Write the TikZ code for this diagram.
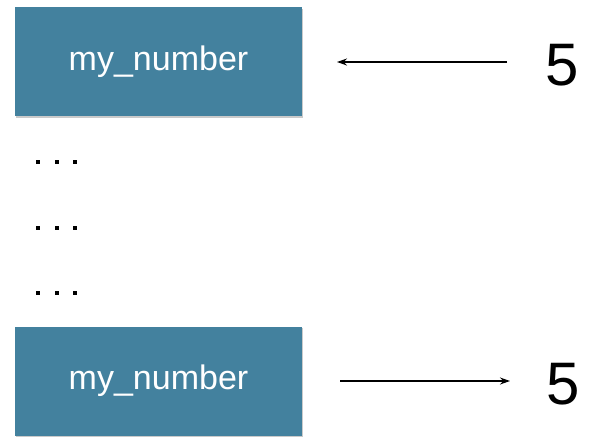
\documentclass[tikz,border=0pt]{standalone}
\usepackage{fontspec}
\setmainfont{Liberation Sans}
\usetikzlibrary{arrows.meta,shadows}
\definecolor{boxblue}{RGB}{67,129,158}
\tikzset{
  varbox/.style={fill=boxblue, draw=none, minimum width=287pt, minimum height=109pt,
    inner sep=0pt, text=white, font=\fontsize{34}{40}\selectfont,
    drop shadow={shadow xshift=1pt, shadow yshift=-1.5pt, opacity=0.35, fill=black!60}},
  valtext/.style={font=\fontsize{60}{70}\selectfont, inner sep=0pt},
  ptr/.style={line width=1.4pt, -{Stealth[length=10pt,width=7pt]}},
  dotmark/.style={fill=black, minimum size=4pt, inner sep=0pt, draw=none}
}
\begin{document}
\begin{tikzpicture}[x=1pt,y=-1pt]
\useasboundingbox (0,0) rectangle (590,437);
\node[varbox] (top) at (158.5,61.5) {my\_number};
\node[varbox] (bot) at (158.5,381) {my\_number};
\node[valtext] (v1) at (562,65) {5};
\node[valtext] (v2) at (563,384) {5};
\coordinate (a1s) at (507,62);
\coordinate (a1e) at (337,62);
\coordinate (a2s) at (340,381);
\coordinate (a2e) at (510,381);
\draw[ptr] (a1s) -- (a1e);
\draw[ptr] (a2s) -- (a2e);
\foreach \yy/\nm in {162/a,228/b,293/c}{
  \foreach \xx/\k in {38/1,57/2,75/3}{
    \node[dotmark] (d\nm\k) at (\xx,\yy) {};
  }
}
\end{tikzpicture}
\end{document}
